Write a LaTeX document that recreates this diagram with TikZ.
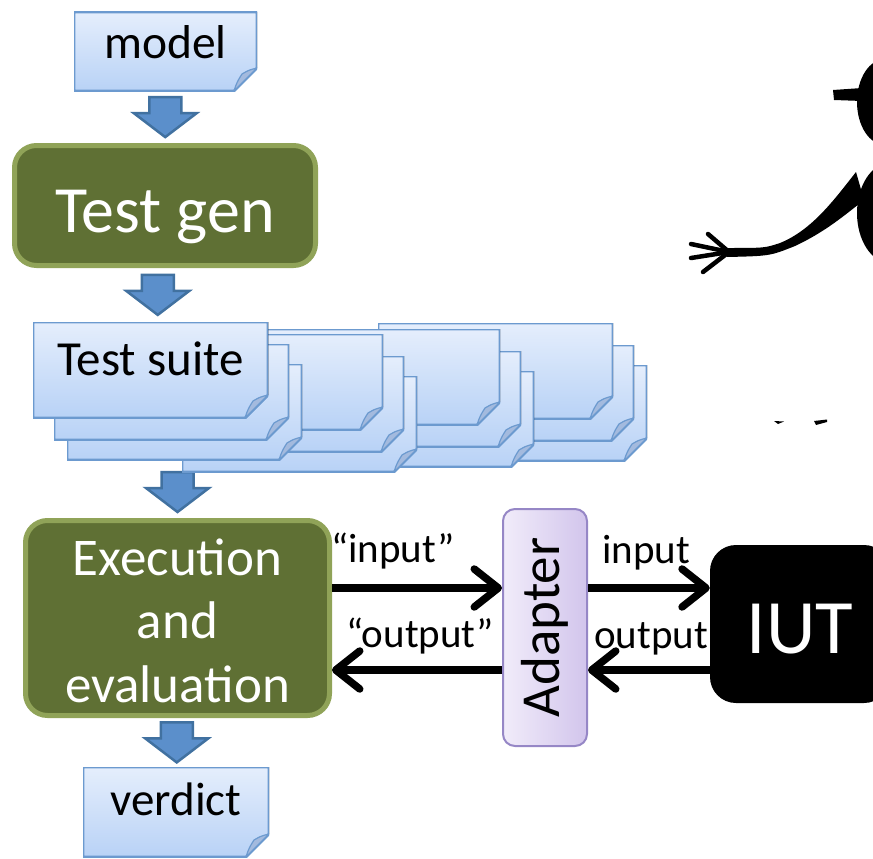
\documentclass[tikz,border=0pt]{standalone}
\usepackage{fontspec}
\setmainfont{Carlito}
\usetikzlibrary{arrows.meta,calc}

\definecolor{sheettop}{RGB}{229,238,252}
\definecolor{sheetbot}{RGB}{184,210,246}
\definecolor{sheetline}{RGB}{108,154,207}
\definecolor{foldfill}{RGB}{163,186,222}
\definecolor{genfill}{RGB}{95,112,52}
\definecolor{genline}{RGB}{144,163,88}
\definecolor{flowfill}{RGB}{91,143,203}
\definecolor{flowline}{RGB}{65,113,160}
\definecolor{adaptleft}{RGB}{241,236,250}
\definecolor{adaptright}{RGB}{210,197,236}
\definecolor{adaptline}{RGB}{150,135,198}

\tikzset{
  sheet/.style={inner sep=0, minimum width=#1,
    path picture={
      \coordinate (nw) at (path picture bounding box.north west);
      \coordinate (se) at (path picture bounding box.south east);
      \filldraw[draw=sheetline, line width=2.6pt, line join=round, top color=sheettop, bottom color=sheetbot]
        (nw) -- (nw -| se) -- ($(se)+(0,-23)$) -- ($(se)+(-23,0)$) -- (nw |- se) -- cycle;
      \filldraw[draw=sheetline, fill=foldfill, line width=1.2pt, line join=round]
        ($(se)+(-23,0)$) .. controls ($(se)+(-20,-9)$) .. ($(se)+(-15,-17)$)
        .. controls ($(se)+(-8,-21)$) .. ($(se)+(0,-23)$) -- cycle;
    }},
  stage/.style={rounded corners=22pt, fill=genfill, draw=genline, line width=5pt,
    text=white, align=center, inner sep=0},
  flow/.style={line width=7.5pt, -{Straight Barb[length=24pt,width=38pt,round]}},
  lbl/.style={inner sep=0, font=\fontsize{41}{48}\selectfont},
  pics/flowdown/.style={code={
    \filldraw[fill=flowfill, draw=flowline, line width=2.5pt, line join=miter]
      (-16,-20) -- (16,-20) -- (16,-4) -- (31.5,-4) -- (0,20) -- (-31.5,-4) -- (-16,-4) -- cycle;
  }}
}

\begin{document}
\begin{tikzpicture}[x=1pt, y=-1pt]
  \path[use as bounding box, clip] (0,0) rectangle (873,859);

  % person
  \fill (885,102) ellipse [x radius=28pt, y radius=43pt];
  \fill (833,90) -- (862,88) -- (862,101) -- (834,100) -- cycle;
  \fill (890,213) ellipse [x radius=33pt, y radius=50pt];
  \fill (856,172) .. controls (834,200) and (812,230) .. (780,243) .. controls (765,248) .. (727,248)
    -- (727,257) .. controls (770,256) .. (795,246) .. controls (825,232) and (845,215) .. (864,200) -- cycle;
  \foreach \fx/\fy in {708/234,691/244,691/258,703/272}
    \draw[line width=4.5pt, line cap=round] (729,252) -- (\fx,\fy);
  \fill (774,421) -- (784,421.5) -- (778,424) -- cycle;
  \fill (814,421) -- (827,419.5) -- (827,422) -- (816,425) -- cycle;

  \node[sheet=183pt, minimum height=79pt, font=\fontsize{47.5}{54}\selectfont, text height=33pt, text depth=18pt] (model) at (165.5,51.5) {model};
  \node[stage, minimum width=301pt, minimum height=120pt, font=\fontsize{66}{74}\selectfont, text height=67pt, text depth=14pt] (gen) at (165,205.5) {Test gen};
  \node[stage, minimum width=304pt, minimum height=195pt, font=\fontsize{53}{63.5}\selectfont, text height=168pt, text depth=0pt] (exec) at (177.5,618) {Execution\\and\\evaluation};

  \pic at ($(exec.north)+(0,-26)$) {flowdown};
  \foreach \cx/\cy in {378/323,265/329,148/334,33/322}
    \foreach \dx/\dy in {34/42,21/22,0/0}
      \node[sheet=235pt, minimum height=96pt] at ({\cx+\dx+117.5},{\cy+\dy+48}) {};
  \node[sheet=235pt, minimum height=96pt, font=\fontsize{49}{56}\selectfont, text height=33pt, text depth=23pt] (suite) at (150.5,370) {Test suite};

  \node[sheet=186pt, minimum height=90pt, font=\fontsize{47}{54}\selectfont, text height=33pt, text depth=27pt] (verdict) at (176,812) {verdict};

  \pic at ($(model.south)!.5!(gen.north)$) {flowdown};
  \pic at ($(gen.south)!.5!(suite.north)$) {flowdown};
  \pic at ($(exec.south)!.5!(verdict.north)$) {flowdown};

  \node[rounded corners=12pt, draw=adaptline, line width=2pt, left color=adaptleft, right color=adaptright,
    minimum width=84pt, minimum height=237pt, inner sep=0, font=\fontsize{55}{62}\selectfont] (adapter) at (545,627.5) {\rotatebox{90}{Adapter}};
  \node[rounded corners=26pt, fill=black, text=white, minimum width=180pt, minimum height=158pt, inner sep=0,
    font=\fontsize{77}{86}\selectfont, text height=58pt, text depth=0pt] (iut) at (800,624) {IUT};

  \coordinate (upper) at (0,588);
  \coordinate (lower) at (0,670);
  \draw[flow] (exec.east |- upper) -- (adapter.west |- upper);
  \draw[flow] (adapter.east |- upper) -- (iut.west |- upper);
  \draw[flow] (iut.west |- lower) -- (adapter.east |- lower);
  \draw[flow] (adapter.west |- lower) -- (exec.east |- lower);

  \node[lbl, anchor=base west] (qin) at (331,562) {“input”};
  \node[lbl, anchor=base west] (qout) at (346,647) {“output”};
  \node[lbl, anchor=base west] (rin) at (602,563) {input};
  \node[lbl, anchor=base west] (rout) at (594,648) {output};
\end{tikzpicture}
\end{document}
